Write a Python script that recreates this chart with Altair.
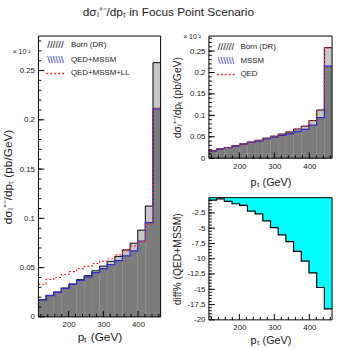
import altair as alt
import pandas as pd

# ---------------- data ----------------
bin_lo = [113, 135, 157, 179, 201, 223, 245, 267, 289, 311, 333, 355, 377, 399, 421, 443]
bin_hi = [135, 157, 179, 201, 223, 245, 267, 289, 311, 333, 355, 377, 399, 421, 443, 465]

born_dr = [0.0174, 0.0217, 0.0252, 0.0293, 0.0334, 0.0378, 0.0418, 0.0468,
           0.0515, 0.0564, 0.0614, 0.0680, 0.0748, 0.0880, 0.1125, 0.2580]
qed_mssm = [0.0173, 0.0217, 0.0250, 0.0290, 0.0330, 0.0370, 0.0407, 0.0450,
            0.0490, 0.0530, 0.0570, 0.0620, 0.0670, 0.0770, 0.0957, 0.2110]
qed_mssm_ll = [0.0330, 0.0380, 0.0400, 0.0430, 0.0460, 0.0490, 0.0513, 0.0540,
               0.0563, 0.0590, 0.0630, 0.0673, 0.0720, 0.0763, 0.0940, 0.2120]
mssm = [0.0173, 0.0216, 0.0250, 0.0290, 0.0331, 0.0371, 0.0408, 0.0452,
        0.0492, 0.0533, 0.0573, 0.0624, 0.0675, 0.0775, 0.0945, 0.2150]
qed = [0.0174, 0.0217, 0.0251, 0.0292, 0.0333, 0.0377, 0.0417, 0.0467,
       0.0514, 0.0562, 0.0612, 0.0678, 0.0746, 0.0877, 0.1120, 0.2575]
diff_pct = [-0.4, -0.2, -0.6, -1.0, -1.25, -2.2, -2.65, -3.8,
            -4.9, -6.1, -7.2, -8.8, -10.4, -12.3, -14.7, -18.2]

x_labels = [200, 300, 400]
x_minor = [120, 140, 160, 180, 220, 240, 260, 280, 320, 340, 360, 380, 420, 440, 460]
y_labels = [0, 0.05, 0.1, 0.15, 0.2, 0.25]
y_minor = [round(0.01 * i, 2) for i in range(1, 29)]
diff_labels = [-2.5, -5, -7.5, -10, -12.5, -15, -17.5, -20]
diff_minor = [round(-0.5 * i, 1) for i in range(1, 40)]

FONT = "Liberation Sans"
BLUE = "#2b2bd0"
RED = "#e8302a"
DARK = "#7c7c7c"
LIGHT = "#c6c6c6"

XS = alt.Scale(domain=[113, 465], nice=False, zero=False)
YS = alt.Scale(domain=[0, 0.285], nice=False, zero=True)
DS = alt.Scale(domain=[-20, 0], nice=False, zero=False)


def hist_df(vals):
    return pd.DataFrame({"lo": bin_lo, "hi": bin_hi, "v": vals, "z": [0] * len(vals)})


def step_df(vals):
    return pd.DataFrame({"x": bin_lo + [bin_hi[-1]], "v": vals + [vals[-1]]})


one = pd.DataFrame({"a": [0]})


def x_axis(fs, tp):
    return alt.Axis(values=x_labels, labelExpr="'' + datum.value", ticks=False, domain=False,
                    grid=False, labelFontSize=8, labelPadding=4, title="pₜ (GeV)",
                    titleFontSize=fs, titleFontWeight="normal", titlePadding=tp,
                    labelColor="#222", titleColor="#222")


def y_axis(title, vals, fs, tx):
    return alt.Axis(values=vals, labelExpr="'' + datum.value", ticks=False, domain=False,
                    grid=False, labelFontSize=8, labelPadding=4, title=title, titleFontSize=fs,
                    titleFontWeight="normal", titleX=tx, labelColor="#222", titleColor="#222")


def make_panel(W, H, yscale, xax, yax, ymaj, ymin, fills, lines, extras):
    X = lambda f: alt.X(f, scale=XS, axis=xax)
    Y = lambda f: alt.Y(f, scale=yscale, axis=yax)
    layers = []
    for vals, color in fills:
        layers.append(alt.Chart(hist_df(vals)).mark_rect(color=color).encode(
            x=X("lo:Q"), x2="hi:Q", y=Y("v:Q"), y2="z:Q"))
    for item in lines:
        vals, kind, color, width, dash = item
        if kind == "area":
            layers.append(alt.Chart(step_df(vals)).mark_area(interpolate="step-after", color=color).encode(
                x=X("x:Q"), y=Y("v:Q"), y2=alt.datum(0)))
            continue
        kw = dict(interpolate="step-after", color=color, strokeWidth=width)
        if dash:
            kw["strokeDash"] = dash
        layers.append(alt.Chart(step_df(vals)).mark_line(**kw).encode(x=X("x:Q"), y=Y("v:Q")))
    layers.append(alt.Chart(pd.DataFrame({"t": ymaj})).mark_rule(color="black", strokeWidth=1).encode(
        y=Y("t:Q"), x=alt.value(0), x2=alt.value(6)))
    layers.append(alt.Chart(pd.DataFrame({"t": ymin})).mark_rule(color="black", strokeWidth=1).encode(
        y=Y("t:Q"), x=alt.value(0), x2=alt.value(3)))
    layers.append(alt.Chart(pd.DataFrame({"t": x_labels})).mark_rule(color="black", strokeWidth=1).encode(
        x=X("t:Q"), y=alt.value(H), y2=alt.value(H - 6)))
    layers.append(alt.Chart(pd.DataFrame({"t": x_minor})).mark_rule(color="black", strokeWidth=1).encode(
        x=X("t:Q"), y=alt.value(H), y2=alt.value(H - 3)))
    layers.append(alt.Chart(one).mark_rect(fill=None, stroke="black", strokeWidth=1).encode(
        x=alt.value(0), x2=alt.value(W), y=alt.value(0), y2=alt.value(H)))
    layers.extend(extras)
    return alt.layer(*layers).properties(width=W, height=H)


def txt(s, x, y, size=8, color="#222", align="left"):
    return alt.Chart(one).mark_text(text=s, fontSize=size, color=color, align=align,
                                    baseline="middle", font=FONT).encode(
        x=alt.value(x), y=alt.value(y))


def dotted_swatch(x1, x2, y):
    return alt.Chart(one).mark_rule(color=RED, strokeWidth=1.3, strokeDash=[2, 2]).encode(
        x=alt.value(x1), x2=alt.value(x2), y=alt.value(y))


YT = "dσₗ⁺⁻/dpₜ (pb/GeV)"
HATCH_F = "//////"
HATCH_B = "\\\\\\\\\\\\"

# ---------------- left panel ----------------
WL, HL = 124, 285
left = make_panel(
    WL, HL, YS, x_axis(12, 3), y_axis(YT, y_labels, 12, -24), y_labels, y_minor,
    fills=[(born_dr, LIGHT), (qed_mssm, DARK)],
    lines=[(born_dr, "line", "black", 1, None),
           (qed_mssm, "line", BLUE, 1.3, None),
           (qed_mssm_ll, "line", RED, 1.2, [2, 2])],
    extras=[
        txt("× 10⁻²", -8, 16, 7, align="right"),
        txt(HATCH_F, 9, 9, 10, "#111"),
        txt("Born (DR)", 33, 9, 8),
        txt(HATCH_B, 9, 24, 10, BLUE),
        txt("QED+MSSM", 33, 24, 8),
        dotted_swatch(8, 28, 38),
        txt("QED+MSSM+LL", 33, 38, 8),
    ],
)

# ---------------- right top panel ----------------
WR, HR = 125, 124
right_top = make_panel(
    WR, HR, YS, x_axis(11, 7), y_axis(YT, y_labels, 10.5, -27), y_labels, y_minor,
    fills=[(born_dr, LIGHT), (mssm, DARK)],
    lines=[(born_dr, "line", "black", 1, None),
           (mssm, "line", BLUE, 1.3, None),
           (qed, "line", RED, 1.2, [2, 2])],
    extras=[
        txt("× 10⁻²", -8, 1, 7, align="right"),
        txt(HATCH_F, 9, 11, 10, "#111"),
        txt("Born (DR)", 32, 11, 8),
        txt(HATCH_B, 9, 25, 10, BLUE),
        txt("MSSM", 32, 25, 8),
        dotted_swatch(8, 28, 39),
        txt("QED", 32, 39, 8),
    ],
)

# ---------------- right bottom panel (diff %) ----------------
right_bot = make_panel(
    WR, HR, DS, x_axis(11, 3), y_axis("diff% (QED+MSSM)", diff_labels, 10.5, -27),
    diff_labels, diff_minor,
    fills=[],
    lines=[(diff_pct, "area", "#00ffff", 0, None),
           (diff_pct, "line", "black", 1.2, None)],
    extras=[],
)

chart = alt.hconcat(
    left,
    alt.vconcat(right_top, right_bot, spacing=8),
    spacing=8,
).properties(
    title=alt.TitleParams("dσₗ⁺⁻/dpₜ in Focus Point Scenario", fontSize=12, fontWeight="normal",
                          anchor="middle", font=FONT, color="#222", offset=14),
    padding={"left": 2, "top": 4, "right": 2, "bottom": 2},
).configure(font=FONT).configure_view(stroke=None)

chart.save("out.html", embed_options={"renderer": "svg", "actions": False})
